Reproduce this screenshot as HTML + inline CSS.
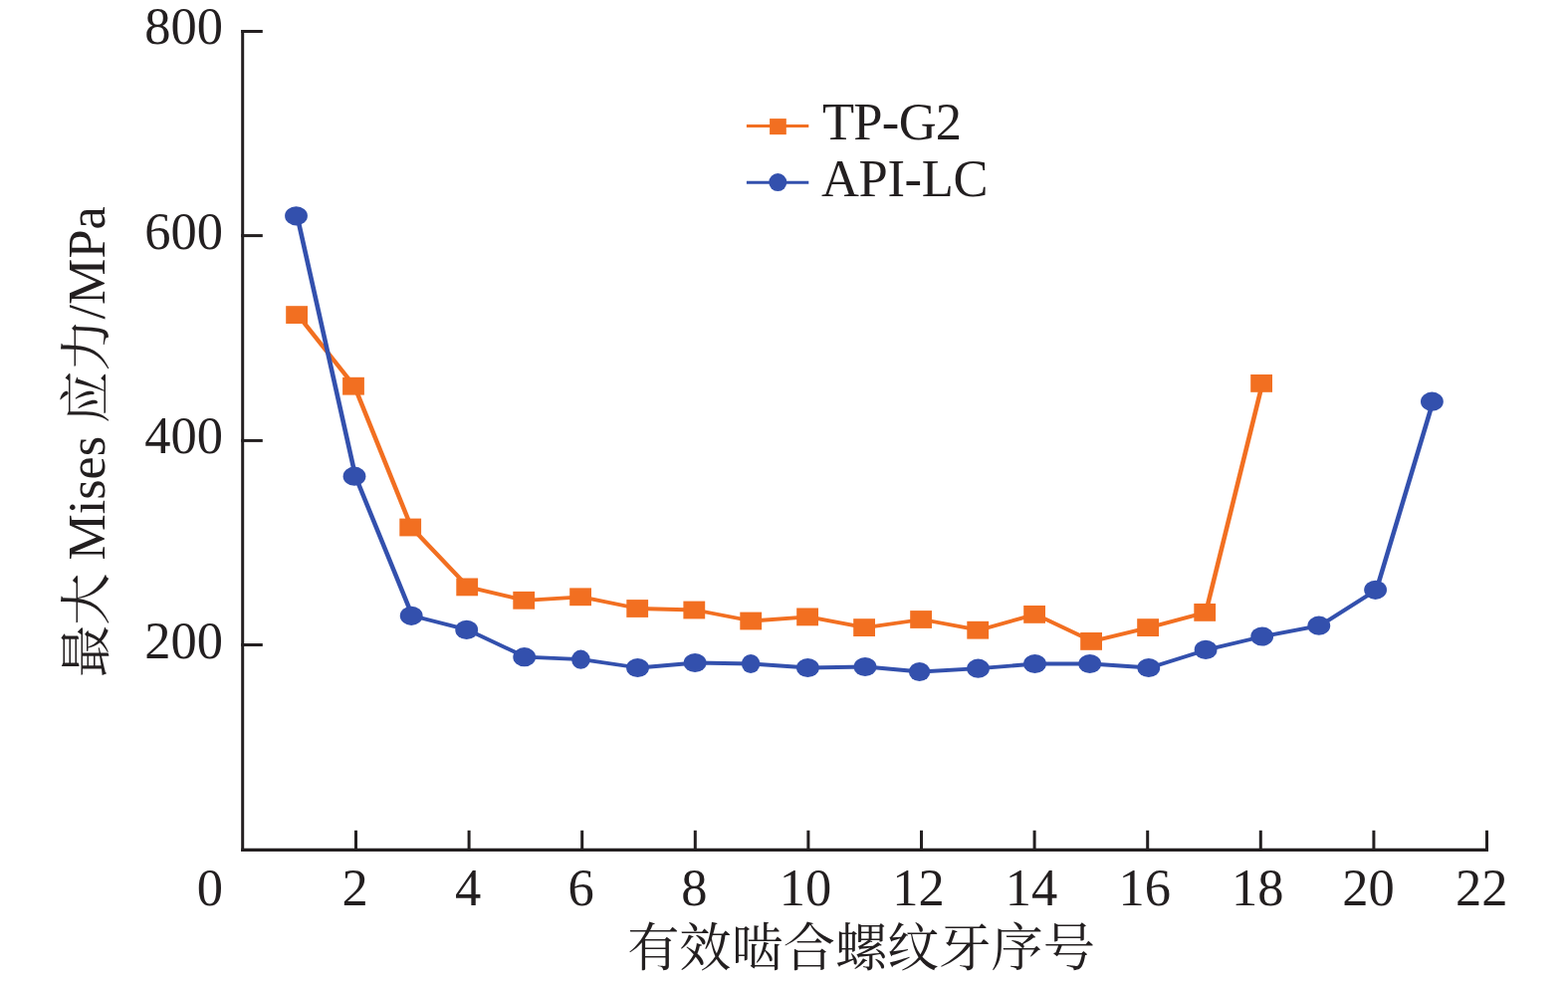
<!DOCTYPE html>
<html lang="zh-CN">
<head>
<meta charset="utf-8">
<title>最大 Mises 应力/MPa</title>
<style>
html,body{margin:0;padding:0;background:#fff;}
body{width:1575px;height:986px;overflow:hidden;}
svg{display:block;}
text{font-family:"Liberation Serif","Noto Serif CJK SC",serif;fill:#231F20;}
.t{font-size:52.5px;}
.c{font-size:52.2px;}
</style>
</head>
<body>
<svg width="1575" height="986" viewBox="0 0 1575 986">
<rect x="0" y="0" width="1575" height="986" fill="#ffffff"/>
<g stroke="#231F20" stroke-width="3.0" fill="none" stroke-linecap="butt">
<path d="M243.7 30 V854.9"/>
<path d="M242.2 853.3 H1495" stroke-width="3.2"/>
<path d="M242.2 31.5 H263.8"/>
<path d="M242.2 236.6 H263.8"/>
<path d="M242.2 442.4 H263.8"/>
<path d="M242.2 647.5 H263.8"/>
<path d="M357.5 853.3 V833.8"/>
<path d="M471.1 853.3 V833.8"/>
<path d="M584.7 853.3 V833.8"/>
<path d="M698.3 853.3 V833.8"/>
<path d="M811.9 853.3 V833.8"/>
<path d="M925.5 853.3 V833.8"/>
<path d="M1039.1 853.3 V833.8"/>
<path d="M1152.7 853.3 V833.8"/>
<path d="M1266.3 853.3 V833.8"/>
<path d="M1379.9 853.3 V833.8"/>
<path d="M1493.5 853.3 V833.8"/>
</g>
<text class="t" x="224" y="44.2" text-anchor="end">800</text>
<text class="t" x="224" y="250.4" text-anchor="end">600</text>
<text class="t" x="224" y="455.2" text-anchor="end">400</text>
<text class="t" x="224" y="661.4" text-anchor="end">200</text>
<text class="t" x="224" y="909" text-anchor="end">0</text>
<text class="t" x="356.5" y="909" text-anchor="middle">2</text>
<text class="t" x="470.1" y="909" text-anchor="middle">4</text>
<text class="t" x="583.7" y="909" text-anchor="middle">6</text>
<text class="t" x="697.3" y="909" text-anchor="middle">8</text>
<text class="t" x="808.9" y="909" text-anchor="middle">10</text>
<text class="t" x="922.5" y="909" text-anchor="middle">12</text>
<text class="t" x="1036.1" y="909" text-anchor="middle">14</text>
<text class="t" x="1149.7" y="909" text-anchor="middle">16</text>
<text class="t" x="1263.3" y="909" text-anchor="middle">18</text>
<text class="t" x="1374.6" y="909" text-anchor="middle">20</text>
<text class="t" x="1488.2" y="909" text-anchor="middle">22</text>
<text class="c" x="865" y="970" text-anchor="middle">有效啮合螺纹牙序号</text>
<text class="c" transform="translate(104.6 443.7) rotate(-90)" text-anchor="middle">最大 Mises 应力/MPa</text>
<g transform="scale(1.22 1)" fill="none" stroke-width="3.8" stroke-linejoin="round">
<polyline points="245.16,316.1 291.80,387.7 338.69,529.5 385.41,589.4 432.13,602.8 478.77,599.3 525.57,611.0 572.38,612.5 619.02,623.5 665.66,619.4 712.38,630.1 759.10,622.0 805.90,632.7 852.54,616.9 899.26,643.9 945.98,630.1 992.79,614.9 1039.43,384.9" stroke="#F26F21"/>
<polyline points="244.67,216.8 292.62,478.2 339.51,618.3 385.00,632.4 432.54,659.7 479.02,662.2 525.82,670.5 573.03,665.5 618.93,666.5 665.90,670.5 713.11,669.5 757.87,674.5 806.15,671.2 852.87,666.5 898.11,666.5 946.56,670.5 993.52,652.4 1039.92,639.0 1086.72,628.2 1133.28,592.3 1179.84,403.2" stroke="#3350AD"/>
</g>
<g fill="#F26F21">
<rect x="287.2" y="307.2" width="21.8" height="17.8"/>
<rect x="344.1" y="378.8" width="21.8" height="17.8"/>
<rect x="401.3" y="520.6" width="21.8" height="17.8"/>
<rect x="458.3" y="580.5" width="21.8" height="17.8"/>
<rect x="515.3" y="593.9" width="21.8" height="17.8"/>
<rect x="572.2" y="590.4" width="21.8" height="17.8"/>
<rect x="629.3" y="602.1" width="21.8" height="17.8"/>
<rect x="686.4" y="603.6" width="21.8" height="17.8"/>
<rect x="743.3" y="614.6" width="21.8" height="17.8"/>
<rect x="800.2" y="610.5" width="21.8" height="17.8"/>
<rect x="857.2" y="621.2" width="21.8" height="17.8"/>
<rect x="914.2" y="613.1" width="21.8" height="17.8"/>
<rect x="971.3" y="623.8" width="21.8" height="17.8"/>
<rect x="1028.2" y="608.0" width="21.8" height="17.8"/>
<rect x="1085.2" y="635.0" width="21.8" height="17.8"/>
<rect x="1142.2" y="621.2" width="21.8" height="17.8"/>
<rect x="1199.3" y="606.0" width="21.8" height="17.8"/>
<rect x="1256.2" y="376.0" width="21.8" height="17.8"/>
</g>
<g fill="#3350AD">
<ellipse cx="297.5" cy="216.8" rx="11.4" ry="9.6"/>
<ellipse cx="356.0" cy="478.2" rx="11.4" ry="9.6"/>
<ellipse cx="413.2" cy="618.3" rx="11.4" ry="9.6"/>
<ellipse cx="468.7" cy="632.4" rx="11.4" ry="9.6"/>
<ellipse cx="526.7" cy="659.7" rx="11.4" ry="9.6"/>
<ellipse cx="583.4" cy="662.2" rx="9.3" ry="9.6"/>
<ellipse cx="640.5" cy="670.5" rx="11.4" ry="9.6"/>
<ellipse cx="698.1" cy="665.5" rx="11.4" ry="9.6"/>
<ellipse cx="754.1" cy="666.5" rx="9.2" ry="9.6"/>
<ellipse cx="811.4" cy="670.5" rx="11.4" ry="9.6"/>
<ellipse cx="869.0" cy="669.5" rx="11.4" ry="9.6"/>
<ellipse cx="923.6" cy="674.5" rx="10.7" ry="9.6"/>
<ellipse cx="982.5" cy="671.2" rx="11.4" ry="9.6"/>
<ellipse cx="1039.5" cy="666.5" rx="11.4" ry="9.6"/>
<ellipse cx="1094.7" cy="666.5" rx="11.4" ry="9.6"/>
<ellipse cx="1153.8" cy="670.5" rx="11.4" ry="9.6"/>
<ellipse cx="1211.1" cy="652.4" rx="11.4" ry="9.6"/>
<ellipse cx="1267.7" cy="639.0" rx="11.4" ry="9.6"/>
<ellipse cx="1324.8" cy="628.2" rx="11.4" ry="9.6"/>
<ellipse cx="1381.6" cy="592.3" rx="11.4" ry="9.6"/>
<ellipse cx="1438.4" cy="403.2" rx="11.4" ry="9.6"/>
</g>
<path d="M749.9 126.6 H812.3" stroke="#F26F21" stroke-width="3" fill="none"/>
<rect x="773.1" y="119.1" width="16.7" height="16" fill="#F26F21"/>
<text class="t" x="826" y="140.3" letter-spacing="-0.7">TP-G2</text>
<path d="M749.9 183.3 H812.3" stroke="#3350AD" stroke-width="3" fill="none"/>
<circle cx="781.3" cy="183.1" r="9" fill="#3350AD"/>
<text class="t" x="825" y="197.2" letter-spacing="-0.35">API-LC</text>
</svg>
</body>
</html>
